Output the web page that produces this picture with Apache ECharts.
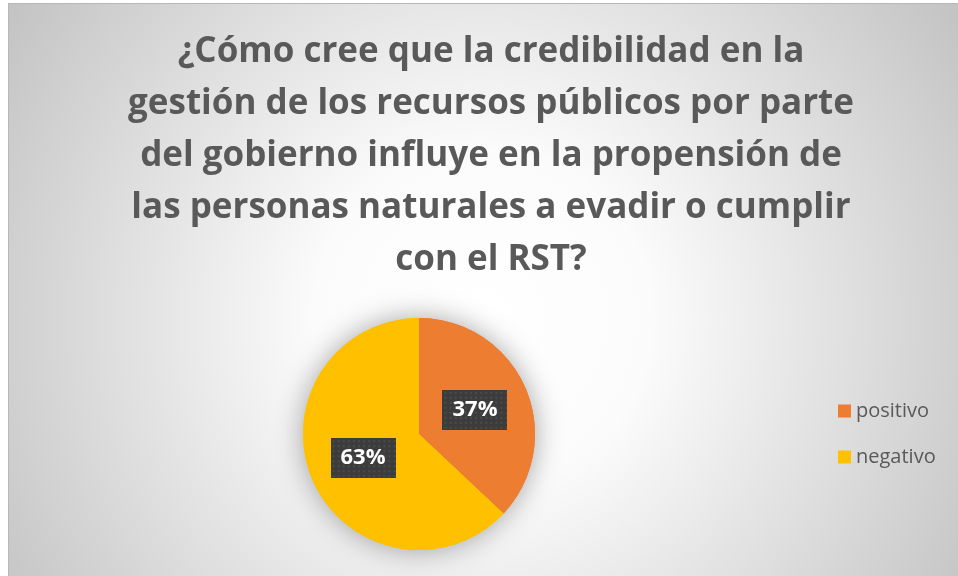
<!DOCTYPE html>
<html>
<head>
<meta charset="utf-8">
<script src="https://cdn.jsdelivr.net/npm/echarts@6/dist/echarts.min.js"></script>
<style>
  html, body { margin: 0; padding: 0; background: #ffffff; }
  #chart {
    position: absolute; left: 8px; top: 3px;
    width: 950px; height: 573px;
    box-sizing: border-box;
    border-left: 1px solid #b8b8b8;
    border-top: 1px solid #b8b8b8;
  }
</style>
</head>
<body>
<div id="chart"></div>
<script>
var titleLines = [
  '¿Cómo cree que la credibilidad en la',
  'gestión de los recursos públicos por parte',
  'del gobierno influye en la propensión de',
  'las personas naturales a evadir o cumplir',
  'con el RST?'
];
var categories = ['positivo', 'negativo'];
var values = [37, 63];
var colors = ['#ED7D31', '#FFC000'];

// dotted dark box used behind the percentage labels
function dotBox(w, h) {
  var c = document.createElement('canvas');
  c.width = w; c.height = h;
  var ctx = c.getContext('2d');
  ctx.fillStyle = '#3c3c3c';
  ctx.fillRect(0, 0, w, h);
  ctx.fillStyle = '#4b4b4b';
  for (var y = 2; y < h; y += 5) {
    for (var x = 2; x < w; x += 5) {
      ctx.fillRect(x, y, 2, 2);
    }
  }
  return c;
}
var boxImg = dotBox(64, 40);

var pieData = [];
for (var i = 0; i < categories.length; i++) {
  pieData.push({ name: categories[i], value: values[i], itemStyle: { color: colors[i] } });
}

var myChart = echarts.init(document.getElementById('chart'));
myChart.setOption({
  backgroundColor: {
    type: 'radial', x: 0.5, y: 0.55, r: 0.98,
    colorStops: [
      { offset: 0, color: '#ffffff' },
      { offset: 0.3, color: '#fbfbfb' },
      { offset: 1, color: '#c4c4c4' }
    ]
  },
  title: {
    text: titleLines.join('\n'),
    left: 477,
    top: 17,
    textAlign: 'center',
    textStyle: {
      fontFamily: 'Open Sans',
      fontWeight: 'bold',
      fontSize: 35,
      lineHeight: 52,
      color: '#595959'
    }
  },
  legend: {
    orient: 'vertical',
    left: 824,
    top: 392,
    icon: 'rect',
    itemWidth: 13,
    itemHeight: 13,
    itemGap: 26,
    data: categories,
    textStyle: {
      fontFamily: 'Open Sans',
      fontSize: 20,
      lineHeight: 20,
      color: '#595959'
    }
  },
  series: [
    {
      // shadow layer under the pie
      type: 'pie',
      silent: true,
      legendHoverLink: false,
      center: [410, 430],
      radius: 116,
      startAngle: 90,
      data: pieData,
      label: { show: false },
      labelLine: { show: false },
      itemStyle: { shadowBlur: 28, shadowColor: 'rgba(0,0,0,0.35)' },
      z: 1
    },
    {
      name: 'respuestas',
      type: 'pie',
      center: [410, 430],
      radius: 116,
      startAngle: 90,
      data: pieData,
      z: 2,
      label: {
        show: true,
        position: 'inside',
        formatter: '{d}%',
        fontFamily: 'Open Sans',
        fontWeight: 'bold',
        fontSize: 22,
        lineHeight: 24,
        color: '#ffffff',
        padding: [8, 10],
        backgroundColor: { image: boxImg },
        shadowColor: 'rgba(0,0,0,0.45)',
        shadowBlur: 6,
        shadowOffsetX: 3,
        shadowOffsetY: 3
      },
      labelLine: { show: false },
      emphasis: { scale: false }
    }
  ]
});
</script>
</body>
</html>
